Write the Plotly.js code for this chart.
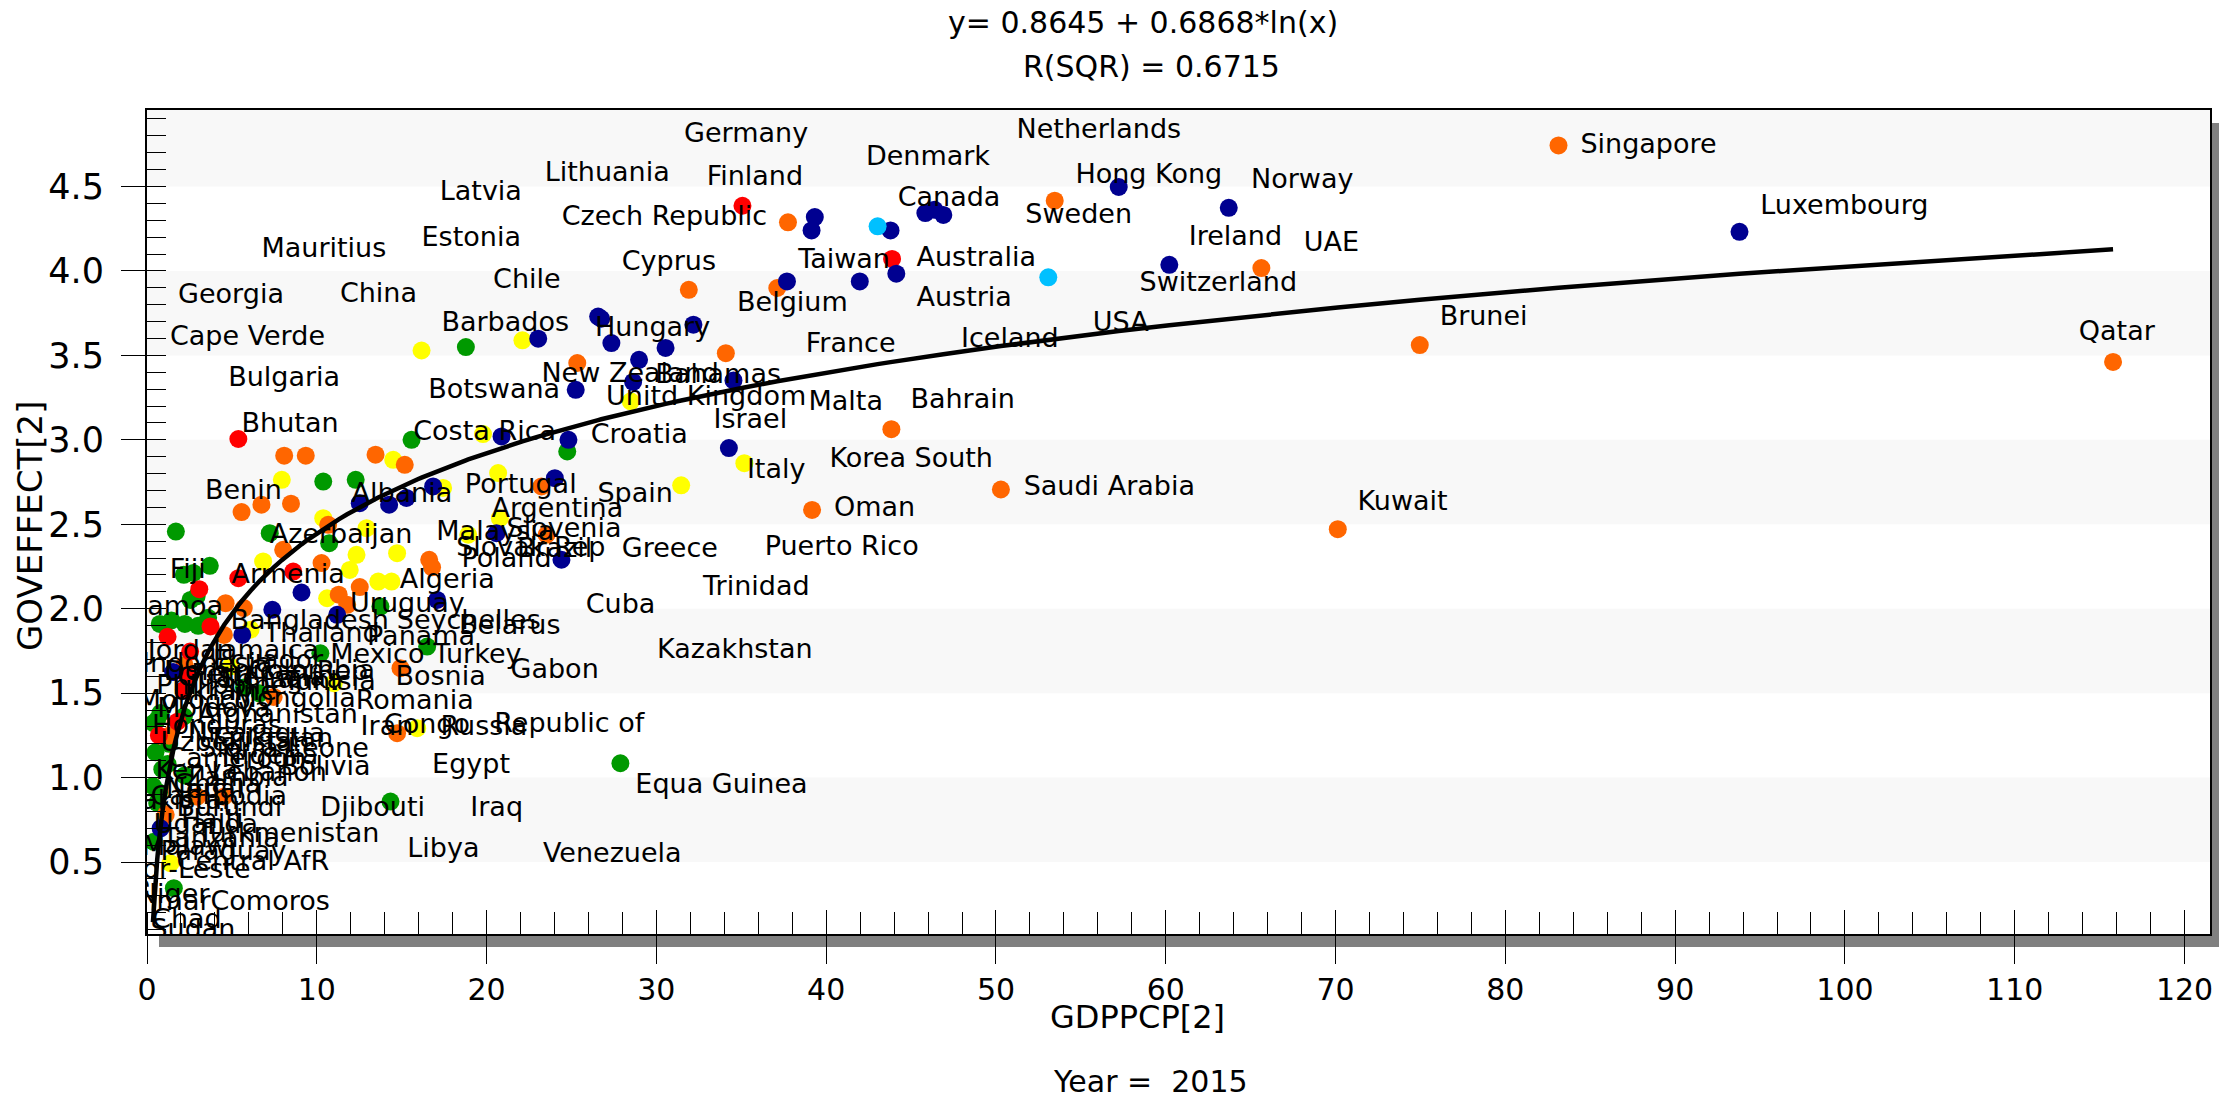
<!DOCTYPE html>
<html>
<head>
<meta charset="utf-8">
<script src="https://cdn.plot.ly/plotly-3.0.1.min.js"></script>
<style>
html,body{margin:0;padding:0;background:#fff;overflow:hidden;}
#wrap{position:relative;width:2219px;height:1101px;}
#shadow{position:absolute;left:159px;top:123px;width:2060px;height:824px;background:#808080;z-index:0;}
#chart{position:absolute;left:0;top:0;width:2219px;height:1101px;z-index:1;}
</style>
</head>
<body>
<div id="wrap"><div id="shadow"></div><div id="chart"></div></div>
<script>
// ---------------- DATA ----------------
const fitIntercept = 0.8645;
const fitSlope = 0.6868;
const rSquared = 0.6715;
const yearLabel = "2015";

const redGdp = [35.07, 43.88, 5.38, 8.61, 5.38, 3.08, 3.74, 2.54, 2.17, 1.21, 1.79, 2.37, 0.7];
const redGov = [4.386, 4.071, 3.005, 2.220, 2.181, 2.116, 1.895, 1.746, 1.519, 1.834, 1.331, 1.602, 1.25];

const orangeGdp = [83.13, 53.46, 65.63, 74.96, 70.13, 50.29, 115.79, 39.17, 43.84, 37.75, 37.12, 31.91, 34.09, 25.34, 8.08, 9.35, 13.46, 15.18, 23.23, 8.48, 6.74, 5.57, 10.67, 23.53, 8.02, 10.28, 16.62, 16.79, 12.53, 4.63, 5.70, 11.29, 11.79, 4.53, 14.93, 14.73, 2.96, 4.53, 7.46, 2.21, 1.29, 1.10];
const orangeGov = [4.743, 4.416, 4.017, 3.561, 2.471, 2.706, 3.461, 2.585, 3.063, 4.288, 3.899, 3.888, 3.513, 3.455, 2.906, 2.906, 2.912, 2.852, 2.724, 2.622, 2.616, 2.572, 2.497, 2.438, 2.349, 2.270, 2.290, 2.245, 2.128, 2.033, 2.004, 2.083, 2.023, 1.845, 1.648, 1.263, 0.887, 0.887, 1.478, 1.667, 1.248, 0.78];

const yellowGdp = [22.11, 16.17, 28.49, 35.18, 31.46, 19.79, 14.50, 20.68, 7.94, 17.44, 10.38, 12.93, 6.84, 12.34, 14.73, 11.94, 13.62, 14.40, 10.61, 20.78, 18.92, 11.0, 15.91, 1.38, 6.1, 4.92];
const yellowGov = [3.589, 3.529, 3.228, 2.862, 2.731, 3.034, 2.882, 2.803, 2.763, 2.715, 2.536, 2.477, 2.280, 2.319, 2.329, 2.230, 2.161, 2.161, 2.062, 2.536, 2.438, 1.559, 1.293, 0.493, 1.876, 1.658];

const greenGdp = [18.78, 15.58, 24.75, 10.38, 12.29, 1.70, 7.23, 10.73, 3.70, 2.73, 2.92, 2.17, 13.75, 0.75, 1.44, 2.23, 3.01, 3.60, 10.21, 16.5, 0.6, 2.17, 14.34, 1.58, 27.88, 5.71, 6.63, 0.79, 0.38, 2.56, 1.21, 2.21, 0.71, 0.5, 0.9, 0.6, 0.4, 1.3, 0.35];
const greenGov = [3.549, 3.0, 2.931, 2.753, 2.763, 2.457, 2.447, 2.388, 2.254, 2.212, 2.073, 2.201, 2.013, 1.910, 1.931, 1.910, 1.899, 1.946, 1.736, 1.776, 1.342, 1.362, 0.858, 0.345, 1.085, 1.533, 1.499, 1.382, 1.323, 2.052, 1.080, 1.013, 0.912, 1.15, 1.05, 0.85, 0.62, 1.2, 0.95];

const blueGdp = [93.79, 63.71, 57.23, 60.21, 39.33, 39.14, 43.79, 45.84, 46.38, 46.9, 44.13, 41.98, 37.69, 26.57, 26.75, 27.35, 32.18, 30.54, 28.98, 23.04, 25.25, 28.63, 34.54, 24.82, 34.27, 20.88, 24.02, 12.53, 14.26, 15.28, 16.85, 20.58, 24.41, 9.1, 17.09, 7.38, 11.2, 5.61, 1.54, 0.8];
const blueGov = [4.232, 4.374, 4.497, 4.036, 4.319, 4.240, 4.240, 4.343, 4.362, 4.332, 3.984, 3.938, 3.938, 3.730, 3.717, 3.573, 3.682, 3.544, 3.474, 3.599, 3.296, 3.343, 3.352, 3.0, 2.951, 3.020, 2.773, 2.625, 2.616, 2.656, 2.724, 2.447, 2.290, 2.096, 2.052, 1.994, 1.964, 1.845, 1.625, 0.7];

const lightBlueGdp = [53.08, 43.03];
const lightBlueGov = [3.962, 4.264];

// country labels as placed in the picture (data units)
const labelNames = ["Germany","Netherlands","Singapore","Denmark","Hong Kong","Lithuania","Finland","Norway","Latvia","Canada",
"Luxembourg","Sweden","Czech Republic","Ireland","Estonia","UAE","Mauritius","Taiwan","Australia","Cyprus",
"Chile","Switzerland","China","Georgia","Austria","Belgium","Brunei","Barbados","USA","Hungary",
"Qatar","Cape Verde","Iceland","France","Bahamas","New Zealand","Bulgaria","Botswana","Unitd Kingdom","Malta",
"Bahrain","Israel","Bhutan","Costa Rica","Croatia","Korea South","Italy","Portugal","Saudi Arabia","Benin",
"Albania","Spain","Kuwait","Oman","Argentina","Slovenia","Malaysia","Azerbaijan","Puerto Rico","Slovak Rep",
"Brazil","Greece","Poland","Fiji","Armenia","Algeria","Trinidad","Uruguay","Cuba","Samoa",
"Bangladesh","Seychelles","Belarus","Thailand","Panama","Jamaica","Jordan","Mexico","Turkey","Kazakhstan",
"Gabon","Bosnia","Romania","Mongolia","Morocco","Afghanistan","Iran","Congo","Russia","Republic of",
"Sierra Leone","Bolivia","Egypt","Lebanon","Ghana","Equa Guinea","Burundi","Pakistan","Djibouti","Iraq",
"Turkmenistan","Libya","Paraguay","Venezuela","Central AfR","Timor-Leste","Myanmar","Comoros","Mozambique","Sudan",
"Indonesia","Ecuador","Colombia","Guatemala","Philippines","Tunisia","Peru","Sri Lanka","Dominican Rep","Ukraine",
"Moldova","Honduras","Nicaragua","Uzbekistan","Tajikistan","Nigeria","Cameroon","Kenya","Zambia","Nepal",
"Cambodia","Haiti","Uganda","Tanzania","Malawi","Niger","Chad"];
const labelGdp = [31.63,51.21,84.42,42.34,54.68,23.42,32.96,65.02,17.24,44.21,
95.01,51.73,24.42,61.35,16.17,68.13,6.74,38.35,45.32,27.96,
20.38,58.46,11.36,1.83,45.32,34.75,76.13,17.34,55.70,26.38,
113.77,1.35,47.94,38.80,29.94,23.23,4.78,16.56,27.04,38.96,
44.96,33.36,5.57,15.68,26.13,40.19,35.33,18.72,51.63,3.41,
12.04,26.53,71.29,40.46,20.29,21.18,17.04,7.23,36.38,18.21,
21.79,27.96,18.52,1.34,4.98,14.89,32.75,11.96,25.84,-1.0,
4.92,14.71,18.38,6.88,12.96,3.88,0.04,10.79,16.88,30.04,
21.41,14.63,12.29,5.10,-0.54,2.96,12.58,13.95,17.29,20.45,
3.08,7.86,16.79,3.79,1.54,28.76,1.74,-1.23,10.21,19.04,
2.96,15.33,0.79,23.32,1.74,-3.18,-3.73,3.74,-9.96,0.2,
-0.29,3.88,5.96,1.79,0.54,8.04,2.6,4.2,1.0,1.5,
0.6,0.3,2.4,0.8,3.6,4.4,1.2,0.5,2.3,1.1,
0.2,2.0,0.4,0.9,-0.3,-0.6,0.3];
const labelGov = [4.802,4.827,4.738,4.668,4.560,4.570,4.546,4.530,4.461,4.422,
4.378,4.323,4.313,4.195,4.185,4.161,4.122,4.057,4.071,4.047,
3.938,3.924,3.859,3.849,3.834,3.800,3.720,3.687,3.682,3.652,
3.632,3.603,3.589,3.563,3.375,3.385,3.360,3.286,3.247,3.218,
3.228,3.109,3.089,3.040,3.020,2.882,2.813,2.728,2.715,2.689,
2.674,2.674,2.625,2.590,2.585,2.467,2.447,2.428,2.358,2.354,
2.346,2.349,2.287,2.220,2.191,2.161,2.122,2.023,2.013,2.002,
1.918,1.918,1.893,1.843,1.826,1.742,1.742,1.717,1.717,1.746,
1.628,1.591,1.449,1.457,1.449,1.365,1.294,1.302,1.294,1.312,
1.164,1.055,1.065,1.021,0.946,0.947,0.812,0.854,0.810,0.810,
0.661,0.572,0.552,0.542,0.493,0.443,0.259,0.259,0.351,0.09,
1.667,1.684,1.625,1.583,1.533,1.558,1.600,1.570,1.620,1.500,
1.400,1.300,1.250,1.200,1.220,1.120,1.100,1.030,0.990,0.920,
0.880,0.740,0.710,0.630,0.580,0.300,0.150];

// ---------------- STYLE ----------------
const FONT = "DejaVu Sans, Verdana, sans-serif";
const xRange = [0, 121.5];
const yRange = [0.074, 4.953];
const colors = {red:"#ff0000", orange:"#ff6600", yellow:"#ffff00", green:"#009900", blue:"#000090", light:"#00c0ff"};
const markerSize = 18;

function markerTrace(x, y, color){
  return {type:"scatter", mode:"markers", x:x, y:y, xaxis:"x", yaxis:"y",
    marker:{size:markerSize, color:color, line:{width:0}}, hoverinfo:"skip", showlegend:false, cliponaxis:true};
}

// regression line evaluated at the data's own x values
const allX = [].concat(redGdp, orangeGdp, yellowGdp, greenGdp, blueGdp, lightBlueGdp).slice().sort((a,b)=>a-b);
const fitY = allX.map(v => fitIntercept + fitSlope*Math.log(v));

const traces = [
  markerTrace(greenGdp, greenGov, colors.green),
  markerTrace(yellowGdp, yellowGov, colors.yellow),
  markerTrace(orangeGdp, orangeGov, colors.orange),
  markerTrace(redGdp, redGov, colors.red),
  markerTrace(blueGdp, blueGov, colors.blue),
  markerTrace(lightBlueGdp, lightBlueGov, colors.light),
  {type:"scatter", mode:"text", x:labelGdp, y:labelGov, text:labelNames, textposition:"middle right",
   textfont:{family:FONT, size:27, color:"#000"}, hoverinfo:"skip", showlegend:false, cliponaxis:true, xaxis:"x", yaxis:"y"},
  {type:"scatter", mode:"lines", x:allX, y:fitY, xaxis:"x2", yaxis:"y",
   line:{color:"#000", width:4.5}, hoverinfo:"skip", showlegend:false, cliponaxis:true}
];

// plot geometry (px) for paper-positioned decorations
const W = 2219, H = 1101, mL = 147, mR = 9, mT = 110, mB = 167;
const pw = W - mL - mR, ph = H - mT - mB;
const px = v => (v - mL)/pw;           // page x -> paper x
const py = v => (H - mB - v)/ph;       // page y -> paper y

const shapes = [];
[[4.5, yRange[1]],[3.5,4.0],[2.5,3.0],[1.5,2.0],[0.5,1.0]].forEach(b=>{
  shapes.push({type:"rect", xref:"paper", yref:"y", x0:0, x1:1, y0:b[0], y1:b[1],
    fillcolor:"#f8f8f8", line:{width:0}, layer:"below"});
});

const annotations = [
  {text:"y= 0.8645 + 0.6868*ln(x)", xref:"paper", yref:"paper", x:px(1143), y:py(22), xanchor:"center", yanchor:"middle",
   showarrow:false, font:{family:FONT, size:30, color:"#000"}},
  {text:"R(SQR) = " + rSquared.toFixed(4), xref:"paper", yref:"paper", x:px(1151), y:py(67), xanchor:"center", yanchor:"middle",
   showarrow:false, font:{family:FONT, size:30, color:"#000"}},
  {text:"GDPPCP[2]", xref:"paper", yref:"paper", x:px(1137), y:py(1017), xanchor:"center", yanchor:"middle",
   showarrow:false, font:{family:FONT, size:32, color:"#000"}},
  {text:"Year =\u00a0 " + yearLabel, xref:"paper", yref:"paper", x:px(1150), y:py(1081), xanchor:"center", yanchor:"middle",
   showarrow:false, font:{family:FONT, size:30, color:"#000"}},
  {text:"GOVEFFECT[2]", xref:"paper", yref:"paper", x:px(30), y:py(526), xanchor:"center", yanchor:"middle", textangle:-90,
   showarrow:false, font:{family:FONT, size:34, color:"#000"}}
];

const layout = {
  width:W, height:H,
  margin:{l:mL, r:mR, t:mT, b:mB, pad:0},
  paper_bgcolor:"rgba(0,0,0,0)", plot_bgcolor:"#ffffff",
  showlegend:false,
  font:{family:FONT, color:"#000"},
  xaxis:{range:xRange, fixedrange:true, showgrid:false, zeroline:false,
    showline:true, linecolor:"#000", linewidth:2, mirror:true,
    ticks:"outside", ticklen:28, tickwidth:1, tickcolor:"#000", tick0:0, dtick:10,
    tickfont:{family:FONT, size:30, color:"#000"},
    minor:{ticks:"inside", dtick:2, tick0:0, ticklen:22, tickwidth:1, tickcolor:"#000", showgrid:false}},
  xaxis2:{range:xRange, fixedrange:true, overlaying:"x", anchor:"y", side:"bottom",
    showgrid:false, zeroline:false, showline:false, showticklabels:false,
    ticks:"inside", ticklen:24, tickwidth:1, tickcolor:"#000", tick0:0, dtick:10},
  yaxis:{range:yRange, fixedrange:true, showgrid:false, zeroline:false,
    showline:true, linecolor:"#000", linewidth:2, mirror:true,
    ticks:"outside", ticklen:24, tickwidth:1, tickcolor:"#000", tick0:0, dtick:0.5, tickformat:".1f",
    ticklabelstandoff:10,
    tickfont:{family:FONT, size:35, color:"#000"},
    minor:{ticks:"inside", dtick:0.1, tick0:0, ticklen:19, tickwidth:1, tickcolor:"#000", showgrid:false}},
  shapes:shapes,
  annotations:annotations
};

Plotly.newPlot("chart", traces, layout, {displayModeBar:false, staticPlot:true});
</script>
</body>
</html>
